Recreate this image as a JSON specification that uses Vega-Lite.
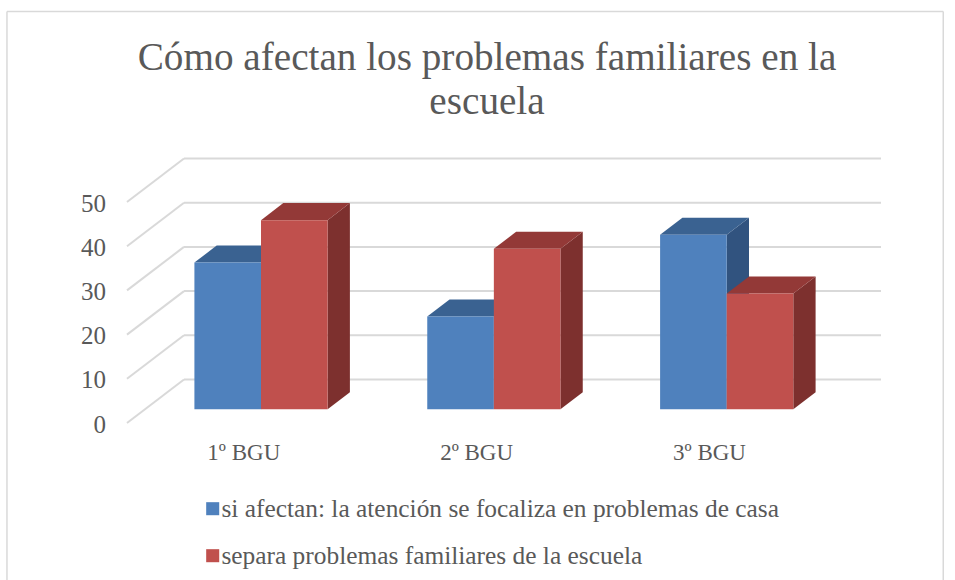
{
"$schema":"https://vega.github.io/schema/vega-lite/v6.json",
"width":754,"height":264,
"autosize":{"type":"none"},
"padding":{"left":127,"top":159,"right":74,"bottom":157},
"background":"white",
"title":{"text":["Cómo afectan los problemas familiares en la","escuela"],"anchor":"middle","frame":"group","dx":-17,"offset":-111,"font":"Liberation Serif","fontSize":39.2,"fontWeight":"normal","color":"#595959","lineHeight":44},
"config":{"view":{"stroke":null},"text":{"font":"Liberation Serif"}},
"datasets":{
"bars":[
{"grade":"1º BGU","series":"si afectan: la atención se focaliza en problemas de casa","value":33.2},
{"grade":"1º BGU","series":"separa problemas familiares de la escuela","value":42.8},
{"grade":"2º BGU","series":"si afectan: la atención se focaliza en problemas de casa","value":21},
{"grade":"2º BGU","series":"separa problemas familiares de la escuela","value":36.3},
{"grade":"3º BGU","series":"si afectan: la atención se focaliza en problemas de casa","value":39.5},
{"grade":"3º BGU","series":"separa problemas familiares de la escuela","value":26.2}
],
"ticks":[{"tick":0},{"tick":10},{"tick":20},{"tick":30},{"tick":40},{"tick":50}]
},
"data":{"name":"bars"},
"transform":[
{"calculate":"indexof(['1º BGU','2º BGU','3º BGU'],datum.grade)+1","as":"g"},
{"calculate":"indexof(datum.series,'si afectan')===0?0:1","as":"s"},
{"calculate":"datum.g-0.286+datum.s*0.286","as":"x0"},
{"calculate":"datum.x0+0.286","as":"x1"},
{"calculate":"3.1","as":"base"},
{"calculate":"datum.base+datum.value","as":"topv"}
],
"encoding":{
"x":{"type":"quantitative","scale":{"domain":[0.4245,3.6627],"nice":false,"zero":false},"axis":null},
"y":{"type":"quantitative","scale":{"domain":[0,59.73],"nice":false,"zero":false},"axis":null}
},
"layer":[
{"data":{"values":[{"x":-0.091,"x2":3.93,"y":93.1,"y2":93.1},{"x":-0.091,"x2":-0.091,"y":93.1,"y2":-35.5},{"x":3.93,"x2":3.93,"y":93.1,"y2":-35.5}]},"transform":[],
 "mark":{"type":"rule","color":"#D9D9D9","strokeWidth":1.5,"clip":false},
 "encoding":{"x":{"field":"x","type":"quantitative"},"x2":{"field":"x2"},"y":{"field":"y","type":"quantitative"},"y2":{"field":"y2"}}},
{"data":{"name":"ticks"},"transform":[{"calculate":"0.4245+0.2448","as":"xa"},{"calculate":"3.6627","as":"xb"},{"calculate":"datum.tick+9.84","as":"yb"}],
 "mark":{"type":"rule","color":"#D9D9D9","strokeWidth":2},
 "encoding":{"x":{"field":"xa","type":"quantitative"},"x2":{"field":"xb"},"y":{"field":"yb","type":"quantitative"}}},
{"data":{"name":"ticks"},"transform":[{"calculate":"0.4245","as":"xa"},{"calculate":"0.4245+0.2448","as":"xb"},{"calculate":"datum.tick+9.84","as":"yb"}],
 "mark":{"type":"rule","color":"#D9D9D9","strokeWidth":2},
 "encoding":{"x":{"field":"xa","type":"quantitative"},"x2":{"field":"xb"},"y":{"field":"tick","type":"quantitative"},"y2":{"field":"yb"}}},
{"data":{"name":"ticks"},"transform":[{"calculate":"0.4245","as":"xa"}],
 "mark":{"type":"text","align":"right","baseline":"middle","dx":-21,"dy":1.5,"fontSize":25,"color":"#595959","font":"Liberation Serif"},
 "encoding":{"x":{"field":"xa","type":"quantitative"},"y":{"field":"tick","type":"quantitative"},"text":{"field":"tick","type":"quantitative"}}},
{"transform":[{"filter":"datum.s===0"},{"calculate":"[0,1]","as":"d"},{"flatten":["d"]},{"calculate":"datum.x1+datum.d*0.0958","as":"xs"},{"calculate":"datum.base+datum.d*3.85","as":"yl"},{"calculate":"datum.topv+datum.d*3.85","as":"yu"}],
 "mark":{"type":"area","color":"#31537F","opacity":1},
 "encoding":{"x":{"field":"xs","type":"quantitative"},"y":{"field":"yu","type":"quantitative"},"y2":{"field":"yl"},"detail":{"field":"grade"}}},
{"transform":[{"filter":"datum.s===0"},{"calculate":"[0,1]","as":"d"},{"flatten":["d"]},{"calculate":"datum.x0+datum.d*0.0958","as":"xl"},{"calculate":"datum.x1+datum.d*0.0958","as":"xr"},{"calculate":"datum.topv+datum.d*3.85","as":"yt"}],
 "mark":{"type":"area","orient":"horizontal","color":"#3A6291","opacity":1},
 "encoding":{"y":{"field":"yt","type":"quantitative"},"x":{"field":"xl","type":"quantitative"},"x2":{"field":"xr"},"detail":{"field":"grade"}}},
{"transform":[{"filter":"datum.s===0"}],
 "mark":{"type":"rect"},
 "encoding":{"x":{"field":"x0","type":"quantitative"},"x2":{"field":"x1"},"y":{"field":"topv","type":"quantitative"},"y2":{"field":"base"},
  "color":{"field":"series","type":"nominal","scale":{"domain":["si afectan: la atención se focaliza en problemas de casa","separa problemas familiares de la escuela"],"range":["#4F81BD","#C0504D"]},
   "legend":{"title":null,"orient":"none","legendX":73,"legendY":337,"symbolType":"square","symbolSize":170,"symbolStrokeWidth":0,"symbolOpacity":1,"labelFont":"Liberation Serif","labelFontSize":25.4,"labelColor":"#595959","rowPadding":20,"labelOffset":-4,"labelLimit":700}}}},
{"transform":[{"filter":"datum.s===1"},{"calculate":"[0,1]","as":"d"},{"flatten":["d"]},{"calculate":"datum.x1+datum.d*0.0958","as":"xs"},{"calculate":"datum.base+datum.d*3.85","as":"yl"},{"calculate":"datum.topv+datum.d*3.85","as":"yu"}],
 "mark":{"type":"area","color":"#7D302E","opacity":1},
 "encoding":{"x":{"field":"xs","type":"quantitative"},"y":{"field":"yu","type":"quantitative"},"y2":{"field":"yl"},"detail":{"field":"grade"}}},
{"transform":[{"filter":"datum.s===1"},{"calculate":"[0,1]","as":"d"},{"flatten":["d"]},{"calculate":"datum.x0+datum.d*0.0958","as":"xl"},{"calculate":"datum.x1+datum.d*0.0958","as":"xr"},{"calculate":"datum.topv+datum.d*3.85","as":"yt"}],
 "mark":{"type":"area","orient":"horizontal","color":"#933937","opacity":1},
 "encoding":{"y":{"field":"yt","type":"quantitative"},"x":{"field":"xl","type":"quantitative"},"x2":{"field":"xr"},"detail":{"field":"grade"}}},
{"transform":[{"filter":"datum.s===1"}],
 "mark":{"type":"rect"},
 "encoding":{"x":{"field":"x0","type":"quantitative"},"x2":{"field":"x1"},"y":{"field":"topv","type":"quantitative"},"y2":{"field":"base"},
  "color":{"field":"series","type":"nominal"}}},
{"transform":[{"filter":"datum.s===0"},{"calculate":"datum.g-0.074","as":"lx"},{"calculate":"-6.7","as":"ly"}],
 "mark":{"type":"text","align":"center","baseline":"middle","fontSize":23,"color":"#595959","font":"Liberation Serif","clip":false},
 "encoding":{"x":{"field":"lx","type":"quantitative"},"y":{"field":"ly","type":"quantitative"},"text":{"field":"grade","type":"nominal"}}}
]
}
